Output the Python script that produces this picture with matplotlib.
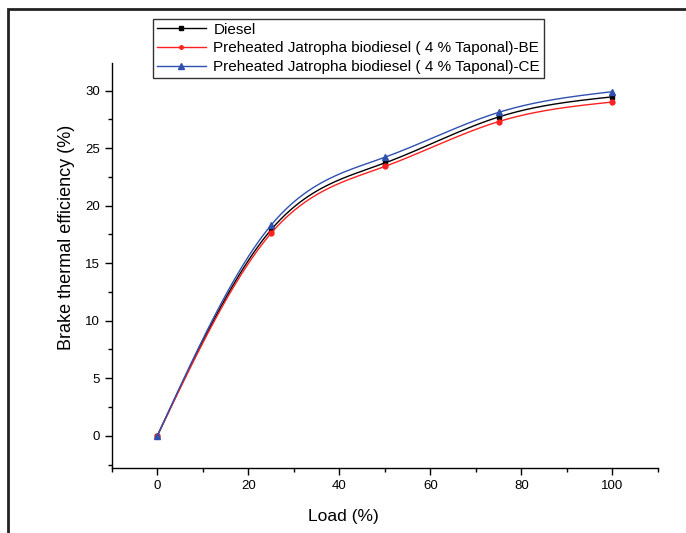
import numpy as np
import matplotlib
matplotlib.use("Agg")
import matplotlib.pyplot as plt
from matplotlib.ticker import MultipleLocator
from matplotlib.patches import Rectangle

load = [0, 25, 50, 75, 100]
diesel = [0, 17.9, 23.7, 27.7, 29.45]
jatropha_be = [0, 17.6, 23.4, 27.3, 29.0]
jatropha_ce = [0, 18.3, 24.2, 28.1, 29.9]
labels = ["Diesel",
          "Preheated Jatropha biodiesel ( 4 % Taponal)-BE",
          "Preheated Jatropha biodiesel ( 4 % Taponal)-CE"]


def natural_spline(x, y, n=200):
    x = np.asarray(x, float)
    y = np.asarray(y, float)
    k = len(x)
    h = np.diff(x)
    A = np.zeros((k, k))
    r = np.zeros(k)
    A[0, 0] = A[-1, -1] = 1
    for i in range(1, k - 1):
        A[i, i - 1] = h[i - 1]
        A[i, i] = 2 * (h[i - 1] + h[i])
        A[i, i + 1] = h[i]
        r[i] = 6 * ((y[i + 1] - y[i]) / h[i] - (y[i] - y[i - 1]) / h[i - 1])
    M = np.linalg.solve(A, r)
    xs = np.linspace(x[0], x[-1], n)
    ys = np.empty_like(xs)
    for j, xv in enumerate(xs):
        i = min(np.searchsorted(x, xv, side="right") - 1, k - 2)
        t1 = x[i + 1] - xv
        t0 = xv - x[i]
        ys[j] = (M[i] * t1 ** 3 / (6 * h[i]) + M[i + 1] * t0 ** 3 / (6 * h[i])
                 + (y[i] / h[i] - M[i] * h[i] / 6) * t1
                 + (y[i + 1] / h[i] - M[i + 1] * h[i] / 6) * t0)
    return xs, ys


plt.rcParams['font.family'] = ['Liberation Sans', 'DejaVu Sans']

fig = plt.figure(figsize=(6.86, 5.33), dpi=100)
ax = fig.add_axes([0.163, 0.122, 0.796, 0.760])

series = [
    (diesel, "black", "s", 3.5),
    (jatropha_be, "#ff2020", "o", 3.5),
    (jatropha_ce, "#3050b0", "^", 5),
]
handles = []
for (vals, col, mk, ms), lab in zip(series, labels):
    xs, ys = natural_spline(load, vals)
    ax.plot(xs, ys, color=col, lw=1.0)
    ax.plot(load, vals, linestyle="none", marker=mk, color=col, ms=ms)
    h, = ax.plot([], [], color=col, lw=1.0, marker=mk, ms=ms - 1)
    handles.append(h)

ax.set_xlim(-10, 110)
ax.set_ylim(-2.8, 32.4)
ax.xaxis.set_major_locator(MultipleLocator(20))
ax.xaxis.set_minor_locator(MultipleLocator(10))
ax.yaxis.set_major_locator(MultipleLocator(5))
ax.yaxis.set_minor_locator(MultipleLocator(2.5))
ax.spines['top'].set_visible(False)
ax.spines['right'].set_visible(False)
for s in ['left', 'bottom']:
    ax.spines[s].set_linewidth(1.0)
ax.tick_params(which='major', direction='out', length=5, width=1, labelsize=9.5)
ax.tick_params(which='minor', direction='out', length=3, width=1)
ax.set_xlabel("Load (%)", fontsize=12.5)
ax.set_ylabel("Brake thermal efficiency (%)", fontsize=13)
ax.xaxis.set_label_coords((344 - 112) / 546, -(509 - 468) / 405, transform=ax.transAxes)
ax.yaxis.set_label_coords(-(112 - 75) / 546, (468 - 237) / 405, transform=ax.transAxes)

leg = fig.legend(handles, labels, loc='upper left',
                 bbox_to_anchor=(153 / 686, 1 - 19 / 533),
                 bbox_transform=fig.transFigure, borderaxespad=0,
                 fontsize=11, frameon=True, fancybox=False, edgecolor='black',
                 handlelength=3.2, labelspacing=0.3, borderpad=0.25,
                 handletextpad=0.5)
leg.get_frame().set_linewidth(1.0)

fig.add_artist(Rectangle((8 / 686, -0.05), 1.1, 1 - 9 / 533 + 0.05,
                         transform=fig.transFigure, fill=False,
                         edgecolor='#222222', lw=2.0, clip_on=False))

fig.savefig("out.png", dpi=100)
